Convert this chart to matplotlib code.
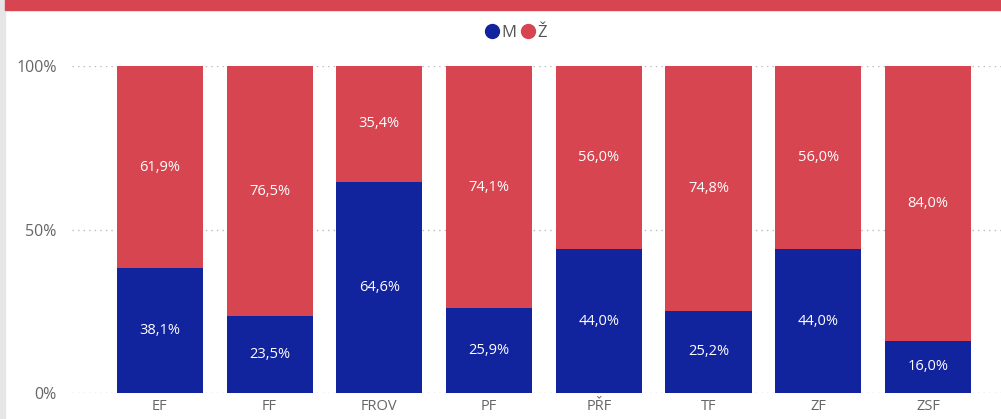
import numpy as np
import matplotlib.pyplot as plt
from matplotlib.patches import Rectangle

plt.rcParams['font.family'] = ['Open Sans', 'DejaVu Sans']

faculties = ["EF", "FF", "FROV", "PF", "PŘF", "TF", "ZF", "ZSF"]
men = [38.1, 23.5, 64.6, 25.9, 44.0, 25.2, 44.0, 16.0]
women = [61.9, 76.5, 35.4, 74.1, 56.0, 74.8, 56.0, 84.0]

blue = "#12239E"
red = "#D64550"

fig = plt.figure(figsize=(10.01, 4.19), dpi=100)
fig.patches.append(Rectangle((0, 0), 0.005, 1, transform=fig.transFigure, color="#E6E6E6", zorder=0))
fig.patches.append(Rectangle((0.005, 0.975), 0.995, 0.025, transform=fig.transFigure, color=red, zorder=0))

ax = fig.add_axes([0.072, 0.062, 0.928, 0.7805])
x = np.arange(len(faculties))
b1 = ax.bar(x, men, width=0.785, color=blue, zorder=3)
b2 = ax.bar(x, women, width=0.785, bottom=men, color=red, zorder=3)

for i in range(len(x)):
    ax.text(x[i], men[i] / 2, f"{men[i]:.1f}%".replace(".", ","), ha="center", va="center",
            color="white", fontsize=10.5, zorder=4)
    ax.text(x[i], men[i] + women[i] / 2, f"{women[i]:.1f}%".replace(".", ","), ha="center",
            va="center", color="white", fontsize=10.5, zorder=4)

ax.set_xlim(-0.8, 7.665)
ax.set_ylim(0, 100)
ax.set_yticks([0, 50, 100])
ax.set_yticklabels(["0%", "50%", "100%"])
ax.set_xticks(x)
ax.set_xticklabels(faculties)
ax.tick_params(axis="both", length=0, colors="#666666", labelsize=10.5)
ax.tick_params(axis="y", pad=11, labelsize=11.5)
ax.tick_params(axis="x", pad=4)
ax.grid(axis="y", linestyle=(0, (1, 3)), color="#BBBBBB", linewidth=1, zorder=0)
for s in ax.spines.values():
    s.set_visible(False)

fig.legend(handles=[plt.Line2D([], [], marker="o", linestyle="", color=blue, markersize=10),
                    plt.Line2D([], [], marker="o", linestyle="", color=red, markersize=10)],
           labels=["M", "Ž"], loc="center", bbox_to_anchor=(0.516, 0.921), ncol=2, frameon=False,
           fontsize=12, handlelength=0.7, handletextpad=0.2, columnspacing=0.4, labelcolor="#555555")

fig.savefig("out.png", dpi=100)
